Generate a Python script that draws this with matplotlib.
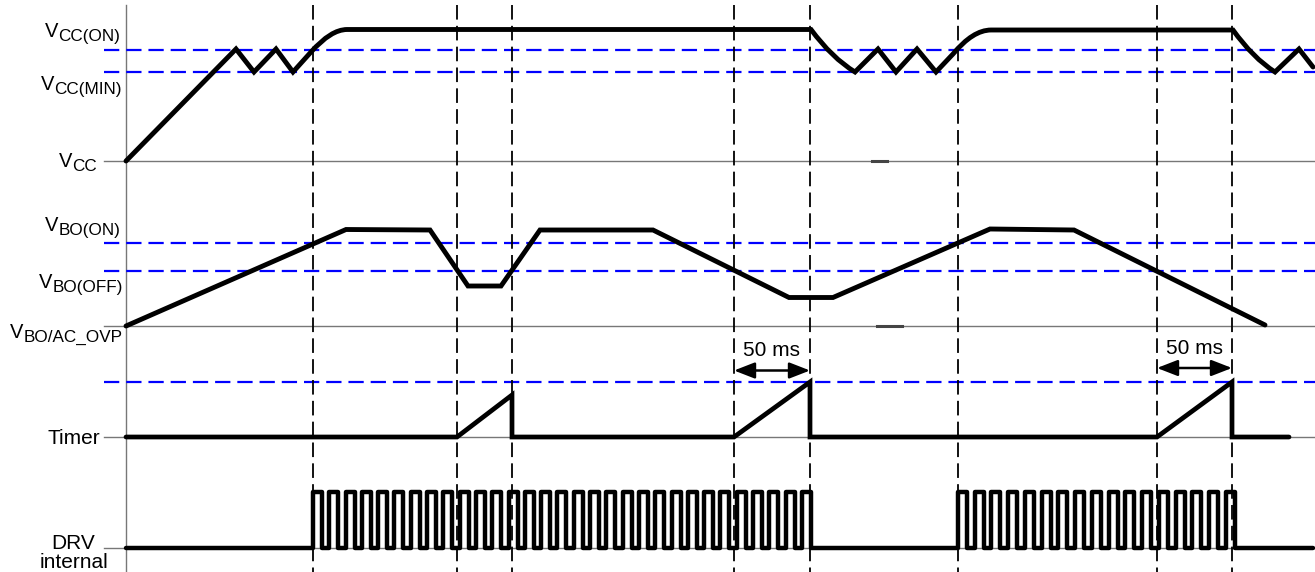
import numpy as np
import matplotlib
matplotlib.use("Agg")
import matplotlib.pyplot as plt
from matplotlib.path import Path
from matplotlib.patches import PathPatch, FancyArrowPatch

plt.rcParams['font.family'] = ['Liberation Sans', 'DejaVu Sans']
plt.rcParams['lines.scale_dashes'] = False

# --- data (x = time, y = level in pixel units) ---
x_left, x_right = 104, 1315
axis_x = 126

# signal baselines
baselines = {'vcc': 161, 'vbo': 326, 'timer': 437, 'drv': 548}

# threshold levels (blue dashed)
vcc_on, vcc_min = 50, 72
vbo_on, vbo_off = 243, 270.5
timer_th = 382

# event markers (black dashed verticals)
events = [313, 457, 512, 734, 810, 958, 1157, 1232]

# VCC trace: (x, y, kind)  kind 'L' = line point, 'C' = curve control point
vcc_nodes = [
    (126, 161, 'L'), (236, 49, 'L'), (254, 72, 'L'), (276, 49, 'L'), (293, 72, 'L'),
    (311, 52, 'L'), (331, 29.5, 'C'), (347, 29.5, 'L'), (811, 29.5, 'L'),
    (832, 58, 'C'), (855, 72, 'L'), (878, 49, 'L'), (896, 72, 'L'), (917, 49, 'L'),
    (936, 72, 'L'), (953, 54, 'L'), (973, 30, 'C'), (991, 30, 'L'), (1233, 30, 'L'),
    (1253, 58, 'C'), (1275, 72, 'L'), (1299, 49, 'L'), (1313, 67, 'L'),
]

# VBO trace
vbo_x = [126, 346, 430, 468, 501, 540, 653, 789, 833, 990, 1074, 1265]
vbo_y = [326, 229.5, 230, 286, 286, 230, 230, 297.5, 297.5, 229, 230, 325]

# Timer trace
timer_x = [126, 457, 512, 512, 734, 810, 810, 1157, 1232, 1232, 1289]
timer_y = [437, 437, 395, 437, 437, 382, 437, 437, 382, 437, 437]

# DRV bursts: (start, end, pulse count)
drv_bursts = [(313, 811, 31), (958, 1235, 17)]
drv_high, drv_low = 492, 548
drv_end = 1313
pulse_w = 9

# 50 ms markers: (x0, x1, arrow y)
ms_marks = [(734, 810, 370.5), (1157, 1232, 368)]

# small dark marks on baselines
base_marks = [(872, 887, 161), (877, 902, 326)]

# labels: (x of V, baseline, subscript)
v_labels = [
    (45, 37, 'CC(ON)'), (41, 90, 'CC(MIN)'), (59, 167, 'CC'),
    (45, 231, 'BO(ON)'), (39, 288, 'BO(OFF)'), (10, 338, 'BO/AC_OVP'),
]

fig = plt.figure(figsize=(13.15, 5.72), dpi=100)
ax = fig.add_axes([0, 0, 1, 1])
ax.set_xlim(0, 1315)
ax.set_ylim(572, 0)
ax.axis('off')

black = '#000000'
gray = '#777777'
blue = '#0000ff'

# baselines and axis
for yb in baselines.values():
    ax.plot([x_left, x_right], [yb, yb], color=gray, lw=1.0, zorder=1)
ax.plot([axis_x, axis_x], [5, 572], color=gray, lw=1.0, zorder=1)
for x0, x1, yb in base_marks:
    ax.plot([x0, x1], [yb, yb], color='#444444', lw=2.2, zorder=1)

# thresholds
for yl in (vcc_on, vcc_min, vbo_on, vbo_off, timer_th):
    ax.plot([x_left, x_right], [yl, yl], color=blue, lw=1.6,
            linestyle=(0, (11, 5)), zorder=2)

# event markers
for xe in events:
    ax.plot([xe, xe], [5, 572], color=black, lw=1.3,
            linestyle=(0, (10.5, 4.5)), zorder=2)

# VCC
verts, codes = [], []
for i, (x, y, kind) in enumerate(vcc_nodes):
    verts.append((x, y))
    if i == 0:
        codes.append(Path.MOVETO)
    elif kind == 'C' or vcc_nodes[i - 1][2] == 'C':
        codes.append(Path.CURVE3)
    else:
        codes.append(Path.LINETO)
ax.add_patch(PathPatch(Path(verts, codes), fill=False, edgecolor=black, lw=3.5,
                       joinstyle='miter', capstyle='round', zorder=4))

# VBO
ax.plot(vbo_x, vbo_y, color=black, lw=3.5, solid_capstyle='round',
        solid_joinstyle='miter', zorder=4)

# Timer
ax.plot(timer_x, timer_y, color=black, lw=3.4, solid_capstyle='round',
        solid_joinstyle='miter', zorder=4)

# DRV internal
dx, dy = [axis_x], [drv_low]
for start, end, n in drv_bursts:
    rises = np.linspace(start, end - pulse_w, n)
    for r in rises:
        dx += [r, r, r + pulse_w, r + pulse_w]
        dy += [drv_low, drv_high, drv_high, drv_low]
dx.append(drv_end)
dy.append(drv_low)
ax.plot(dx, dy, color=black, lw=3.2, solid_capstyle='round',
        solid_joinstyle='round', zorder=4)

# 50 ms arrows
for x0, x1, ya in ms_marks:
    ax.add_patch(FancyArrowPatch((x0, ya), (x1, ya),
                                 arrowstyle='<|-|>,head_length=0.9,head_width=0.35',
                                 mutation_scale=14, color=black, lw=1.8,
                                 shrinkA=0, shrinkB=0, zorder=5))
    ax.text((x0 + x1) / 2, ya - 14, '50 ms', fontsize=15, ha='center',
            va='baseline', zorder=5)

# labels
for xv, yv, sub in v_labels:
    ax.text(xv, yv, 'V', fontsize=14.5, ha='left', va='baseline')
    ax.text(xv + 13.5, yv + 4, sub, fontsize=12.3, ha='left', va='baseline')

ax.text(100, 443.5, 'Timer', fontsize=15, ha='right', va='baseline')
ax.text(73, 549, 'DRV', fontsize=15, ha='center', va='baseline')
ax.text(74, 568, 'internal', fontsize=15, ha='center', va='baseline')

fig.savefig('out.png', dpi=100)
